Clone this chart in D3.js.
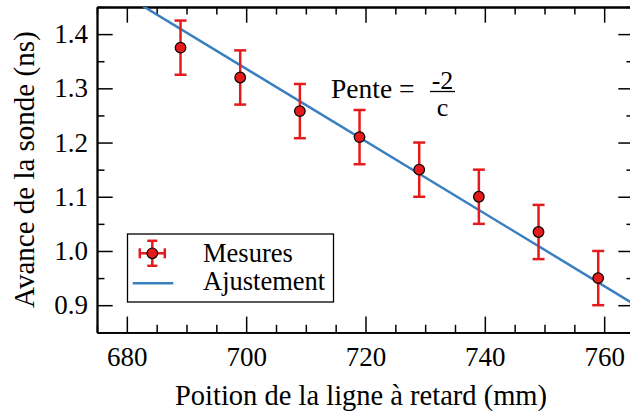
<!DOCTYPE html>
<html lang="fr"><head><meta charset="utf-8">
<script src="https://cdn.jsdelivr.net/npm/d3@7"></script>
<style>
html,body{margin:0;padding:0;background:#fff}
</style>
</head><body>
<svg id="chart" width="630" height="411"></svg>
<script>
// Data
const positions = [689, 699, 709, 719, 729, 739, 749, 759];
const delays = [1.375, 1.32, 1.258, 1.21, 1.15, 1.10, 1.035, 0.95];
const delayErr = [0.05, 0.05, 0.05, 0.05, 0.05, 0.05, 0.05, 0.05];
const fitX = [675, 765];
const fitY = [1.503, 0.902];
const xTicks = [680, 700, 720, 740, 760];
const yTicks = [0.9, 1.0, 1.1, 1.2, 1.3, 1.4];
const legendLabels = ["Mesures", "Ajustement"];

const FONT = "'Liberation Serif', 'Times New Roman', 'Tinos', 'DejaVu Serif', serif";
const svg = d3.select("#chart");
const L = 97, R = 634, T = 7, B = 332.3;
const x = d3.scaleLinear().domain([675, 765]).range([L, R]);
const y = d3.scaleLinear().domain([0.85, 1.45]).range([B, T]);
const red = "#e41a1c", blue = "#3a7fbf";
const major = 15.7, minor = 7.5;

const xMinor = d3.range(675, 766, 5).filter(v => !xTicks.includes(v));
const yMinor = d3.range(0, 13).map(i => +(0.85 + i * 0.05).toFixed(2)).filter(v => !yTicks.some(t => Math.abs(t - v) < 1e-6));

function styleAxis(g) {
  g.attr("font-family", null).attr("font-size", null);
  g.selectAll("path.domain").attr("stroke", "#000").attr("stroke-width", 1.8);
  g.selectAll(".tick line").attr("stroke", "#000").attr("stroke-width", 1.5);
  g.selectAll(".tick text").style("font-family", FONT).style("font-size", "27px").attr("fill", "#000");
}

const gB = svg.append("g").attr("transform", `translate(0,${B})`)
  .call(d3.axisBottom(x).tickValues(xTicks).tickSizeInner(-major).tickSizeOuter(0).tickPadding(15).tickFormat(d3.format("d")));
styleAxis(gB);
const gBm = svg.append("g").attr("transform", `translate(0,${B})`)
  .call(d3.axisBottom(x).tickValues(xMinor).tickSizeInner(-minor).tickSizeOuter(0).tickFormat(""));
styleAxis(gBm);
const gT = svg.append("g").attr("transform", `translate(0,${T})`)
  .call(d3.axisTop(x).tickValues(xTicks).tickSizeInner(-major).tickSizeOuter(0).tickFormat(""));
styleAxis(gT);
const gTm = svg.append("g").attr("transform", `translate(0,${T})`)
  .call(d3.axisTop(x).tickValues(xMinor).tickSizeInner(-minor).tickSizeOuter(0).tickFormat(""));
styleAxis(gTm);
const gL = svg.append("g").attr("transform", `translate(${L},0)`)
  .call(d3.axisLeft(y).tickValues(yTicks).tickSizeInner(-major).tickSizeOuter(0).tickPadding(9).tickFormat(d3.format(".1f")));
styleAxis(gL);
const gLm = svg.append("g").attr("transform", `translate(${L},0)`)
  .call(d3.axisLeft(y).tickValues(yMinor).tickSizeInner(-minor).tickSizeOuter(0).tickFormat(""));
styleAxis(gLm);
const gR = svg.append("g").attr("transform", `translate(${R},0)`)
  .call(d3.axisRight(y).tickValues(yTicks).tickSizeInner(-major).tickSizeOuter(0).tickFormat(""));
styleAxis(gR);
const gRm = svg.append("g").attr("transform", `translate(${R},0)`)
  .call(d3.axisRight(y).tickValues(yMinor).tickSizeInner(-minor).tickSizeOuter(0).tickFormat(""));
styleAxis(gRm);

svg.append("clipPath").attr("id", "clip").append("rect").attr("x", L).attr("y", T).attr("width", R - L).attr("height", B - T);

svg.append("path").attr("clip-path", "url(#clip)")
  .datum(fitX.map((v, i) => [v, fitY[i]]))
  .attr("d", d3.line().x(d => x(d[0])).y(d => y(d[1])))
  .attr("fill", "none").attr("stroke", blue).attr("stroke-width", 2.5);

const pts = positions.map((p, i) => ({ x: p, y: delays[i], e: delayErr[i] }));
const eb = svg.append("g");
eb.selectAll("line.v").data(pts).join("line")
  .attr("x1", d => x(d.x)).attr("x2", d => x(d.x))
  .attr("y1", d => y(d.y + d.e)).attr("y2", d => y(d.y - d.e))
  .attr("stroke", red).attr("stroke-width", 2.5);
eb.selectAll("line.t").data(pts).join("line")
  .attr("x1", d => x(d.x) - 6).attr("x2", d => x(d.x) + 6)
  .attr("y1", d => y(d.y + d.e)).attr("y2", d => y(d.y + d.e))
  .attr("stroke", red).attr("stroke-width", 2.5);
eb.selectAll("line.b").data(pts).join("line")
  .attr("x1", d => x(d.x) - 6).attr("x2", d => x(d.x) + 6)
  .attr("y1", d => y(d.y - d.e)).attr("y2", d => y(d.y - d.e))
  .attr("stroke", red).attr("stroke-width", 2.5);
svg.append("g").selectAll("circle").data(pts).join("circle")
  .attr("cx", d => x(d.x)).attr("cy", d => y(d.y)).attr("r", 5.3)
  .attr("fill", red).attr("stroke", "#000").attr("stroke-width", 1.2);

const labels = [
  { t: "Poition de la ligne à retard (mm)", x: 361, y: 405, a: "middle", s: 28.5, r: 0 },
  { t: "Avance de la sonde (ns)", x: 34, y: (T + B) / 2, a: "middle", s: 29, r: -90 },
  { t: "Pente =", x: 331, y: 97.5, a: "start", s: 27.5, r: 0 },
  { t: "-2", x: 442.5, y: 88.5, a: "middle", s: 26, r: 0 },
  { t: "c", x: 442.5, y: 115.5, a: "middle", s: 26, r: 0 },
  { t: legendLabels[0], x: 203, y: 261.5, a: "start", s: 26.5, r: 0 },
  { t: legendLabels[1], x: 203, y: 290.3, a: "start", s: 26.5, r: 0 }
];

svg.append("line").attr("x1", 430).attr("x2", 455).attr("y1", 91.5).attr("y2", 91.5).attr("stroke", "#000").attr("stroke-width", 1.3);

const lg = svg.append("g");
lg.append("rect").attr("x", 127.5).attr("y", 234).attr("width", 206).attr("height", 68)
  .attr("fill", "#fff").attr("stroke", "#000").attr("stroke-width", 1.3);
const mx = 152.3, my = 253.3;
const seg = (x1, y1, x2, y2, c, w) => lg.append("line").attr("x1", x1).attr("y1", y1).attr("x2", x2).attr("y2", y2).attr("stroke", c).attr("stroke-width", w);
seg(mx - 12.5, my, mx + 12.5, my, red, 2.5);
seg(mx, my - 12.5, mx, my + 12.5, red, 2.5);
seg(mx - 5, my - 12.5, mx + 5, my - 12.5, red, 2.5);
seg(mx - 5, my + 12.5, mx + 5, my + 12.5, red, 2.5);
seg(mx - 12.5, my - 5, mx - 12.5, my + 5, red, 2.5);
seg(mx + 12.5, my - 5, mx + 12.5, my + 5, red, 2.5);
lg.append("circle").attr("cx", mx).attr("cy", my).attr("r", 5.3).attr("fill", red).attr("stroke", "#000").attr("stroke-width", 1.2);
seg(132.7, 283.3, 173.3, 283.3, blue, 2.5);

svg.append("g").selectAll("text.lbl").data(labels).join("text").attr("class", "lbl")
  .attr("transform", d => `translate(${d.x},${d.y}) rotate(${d.r})`)
  .attr("text-anchor", d => d.a)
  .style("font-family", FONT)
  .style("font-size", d => d.s + "px")
  .text(d => d.t);
</script>
</body></html>
